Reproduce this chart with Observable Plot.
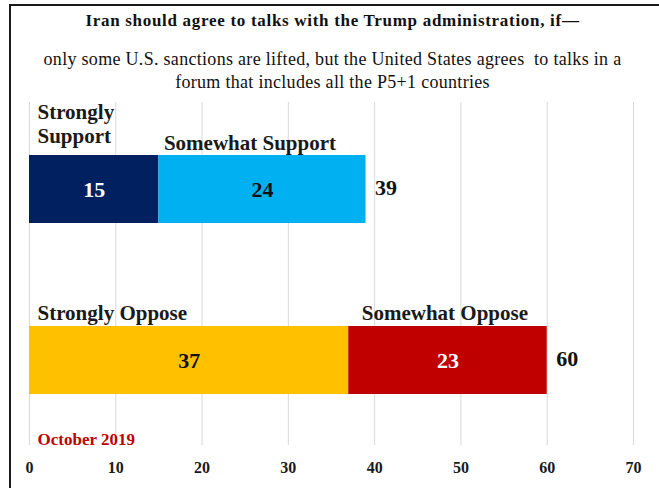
<!DOCTYPE html>
<html><head><meta charset="utf-8">
<script src="https://cdn.jsdelivr.net/npm/d3@7"></script>
<script src="https://cdn.jsdelivr.net/npm/@observablehq/plot@0.6"></script>
<style>
body{margin:0;background:#fff;font-family:'Liberation Serif',serif;color:#111;}
#wrap{position:relative;width:659px;height:488px;overflow:hidden;background:#fff;}
#frame{position:absolute;left:9px;top:4px;width:660px;height:500px;border-left:2px solid #1a1a1a;border-top:2px solid #1a1a1a;}
#title{position:absolute;left:3px;width:659px;top:11px;text-align:center;font-family:'Liberation Serif',serif;font-weight:bold;font-size:17px;line-height:20px;letter-spacing:0.7px;}
#sub{position:absolute;left:3px;width:659px;top:48px;text-align:center;font-family:'Liberation Serif',serif;font-size:18px;line-height:23px;letter-spacing:0.3px;}
#chart{position:absolute;left:0;top:95px;}
</style></head>
<body>
<div id="wrap">
  <div id="frame"></div>
  <div id="title"></div>
  <div id="sub"></div>
  <div id="chart"></div>
</div>
<script>
const titleText = "Iran should agree to talks with the Trump administration, if\u2014";
const subtitleLines = ["only some U.S. sanctions are lifted, but the United States agrees\u00a0 to talks in a", "forum that includes all the P5+1 countries"];
const groups = ["Support", "Oppose"];
const segments = ["Strongly Support", "Somewhat Support", "Strongly Oppose", "Somewhat Oppose"];
const segmentLabels = ["Strongly\nSupport", "Somewhat Support", "Strongly Oppose", "Somewhat Oppose"];
const segmentGroup = ["Support", "Support", "Oppose", "Oppose"];
const values = [15, 24, 37, 23];
const totals = [39, 60];
const xTicks = [0, 10, 20, 30, 40, 50, 60, 70];
const note = "October 2019";

document.getElementById("title").textContent = titleText;
document.getElementById("sub").innerHTML = subtitleLines.join("<br>");

const colors = ["#002060", "#00B0F0", "#FFC000", "#C00000"];
const textColors = ["#ffffff", "#111111", "#111111", "#ffffff"];

const rows = [];
const acc = {};
segments.forEach((s, i) => {
  const g = segmentGroup[i];
  const start = acc[g] || 0;
  acc[g] = start + values[i];
  rows.push({segment: s, label: segmentLabels[i], group: g, value: values[i], x1: start, x2: start + values[i], mid: start + values[i] / 2, i});
});
const totalRows = groups.map((g, i) => ({group: g, total: totals[i]}));

const labelDx = [8, 5, 8, 13];
const labelDy = [-66, -47, -48, -48];

const serif = "Liberation Serif, serif";

const chart = Plot.plot({
  width: 659,
  height: 393,
  marginLeft: 29,
  marginRight: 26,
  marginTop: 7,
  marginBottom: 43,
  style: {fontFamily: serif, background: "transparent", overflow: "visible"},
  x: {domain: [0, 70], ticks: xTicks, label: null},
  y: {domain: groups, range: [25, 334], paddingInner: 0.6, paddingOuter: 0.2, axis: null},
  color: {domain: segments, range: colors},
  marks: [
    Plot.gridX(xTicks, {stroke: "#d9d9d9", strokeOpacity: 1, strokeWidth: 1}),
    Plot.axisX(xTicks, {tickSize: 0, tickPadding: 16, fontSize: 16, fontWeight: "bold", fill: "#1a1a1a", label: null}),
    Plot.barX(rows, {x1: "x1", x2: "x2", y: "group", fill: "segment"}),
    Plot.text(rows, {x: "mid", y: "group", text: d => String(d.value), fill: d => textColors[d.i], fontSize: 22, fontWeight: "bold"}),
    ...rows.map((r, k) => Plot.text([r], {x: "x1", y: "group", text: "label", textAnchor: "start", lineAnchor: "middle", lineHeight: 1.15, fontSize: 21, fontWeight: "bold", fill: "#1a1a1a", dx: labelDx[k], dy: labelDy[k], style: "letter-spacing:0.9px"})),
    Plot.text(totalRows, {x: "total", y: "group", text: d => String(d.total), textAnchor: "start", dx: 9, dy: -2, fontSize: 22, fontWeight: "bold", fill: "#111"}),
    Plot.text([note], {frameAnchor: "bottom-left", text: d => d, textAnchor: "start", dx: 8, dy: -1, fontSize: 17, fontWeight: "bold", fill: "#C00000", style: "letter-spacing:0.3px"})
  ]
});
document.getElementById("chart").append(chart);
</script>
</body></html>
